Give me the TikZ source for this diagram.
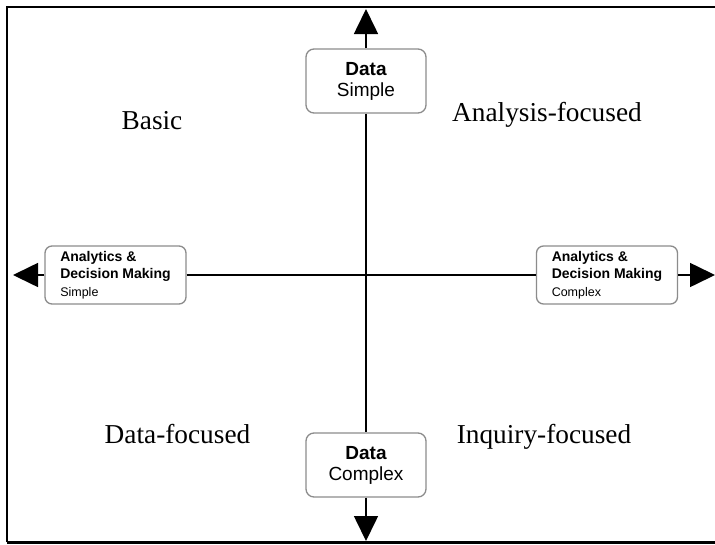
\documentclass[tikz,border=0pt]{standalone}
\usepackage{fontspec}
\setmainfont{Liberation Serif}
\setsansfont{Liberation Sans}
\usetikzlibrary{arrows.meta}
\begin{document}
\begin{tikzpicture}[x=1pt,y=-1pt,
  frameline/.style={line width=2.6pt,black},
  axisline/.style={line width=1.6pt,black},
  axisarrow/.style={axisline,-{Triangle[length=25pt,width=24pt]}},
  bigbox/.style={draw=black!45,line width=1.3pt,rounded corners=8pt,fill=white,
    align=center,font=\sffamily\fontsize{19}{21}\selectfont,
    minimum width=120pt,minimum height=64pt,inner sep=0pt},
  smallbox/.style={draw=black!45,line width=1.3pt,rounded corners=7pt,fill=white,
    align=left,font=\sffamily\fontsize{14}{17.5}\selectfont,
    minimum width=141pt,minimum height=58pt,inner sep=0pt},
  quadlabel/.style={anchor=base,font=\fontsize{27.3}{32}\selectfont}]
\useasboundingbox (0,0) rectangle (715,544);
\clip (0,0) rectangle (715,544);
\fill[white] (0,0) rectangle (715,544);

% outer frame
\draw[frameline] (7,542) -- (7,7) -- (730,7);
\draw[frameline] (7,542.5) -- (730,542.5);

% axis end points
\coordinate (tipN) at (366,9);
\coordinate (tipS) at (366,541);
\coordinate (tipW) at (13,275);
\coordinate (tipE) at (715,275);

% axis labels
\node[bigbox] (dsimple) at (366,81) {\bfseries Data\\Simple};
\node[bigbox] (dcomplex) at (366,465) {\bfseries Data\\Complex};
\node[smallbox] (asimple) at (115.5,275)
  {\bfseries Analytics \&\\\bfseries Decision Making\\\fontsize{12.5}{17.5}\selectfont Simple};
\node[smallbox] (acomplex) at (607,275)
  {\bfseries Analytics \&\\\bfseries Decision Making\\\fontsize{12.5}{17.5}\selectfont Complex};

% axes
\draw[axisline] (dsimple) -- (dcomplex);
\draw[axisline] (asimple) -- (acomplex);
\draw[axisarrow] (dsimple) -- (tipN);
\draw[axisarrow] (dcomplex) -- (tipS);
\draw[axisarrow] (asimple) -- (tipW);
\draw[axisarrow] (acomplex) -- (tipE);

% quadrant names
\node[quadlabel] (qbasic) at (152,129) {Basic};
\node[quadlabel] (qanalysis) at (547,121) {Analysis-focused};
\node[quadlabel] (qdata) at (177.5,443) {Data-focused};
\node[quadlabel] (qinquiry) at (544,443) {Inquiry-focused};
\end{tikzpicture}
\end{document}
